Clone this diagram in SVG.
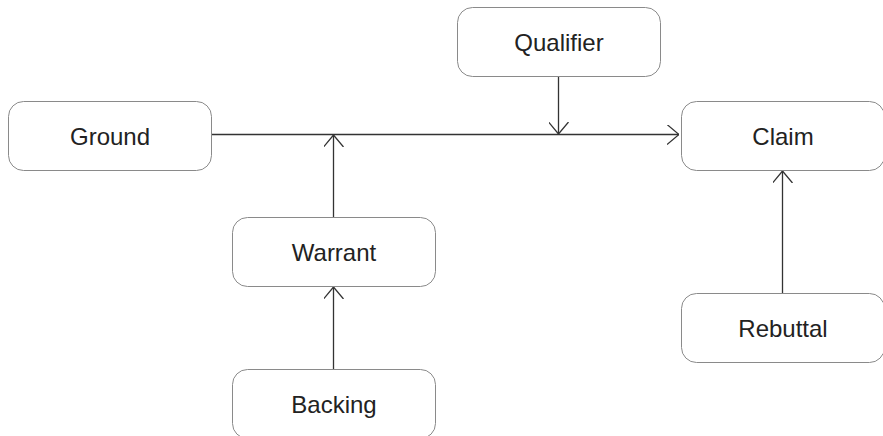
<svg xmlns="http://www.w3.org/2000/svg" width="883" height="436" viewBox="0 0 883 436">
<style>
.box{fill:#fff;stroke:#8a8a8a;stroke-width:1}
.lbl{font-family:"Liberation Sans",Arial,sans-serif;font-size:24px;fill:#222;text-anchor:middle}
.edge{stroke:#333;stroke-width:1.3;fill:none}
</style>
<defs>
<marker id="arr" viewBox="0 0 12 20" refX="12" refY="10" markerWidth="12" markerHeight="20" markerUnits="userSpaceOnUse" orient="auto">
<path d="M0,0 L12,10 L0,20" fill="none" stroke="#333" stroke-width="1.3"/>
</marker>
</defs>
<rect width="883" height="436" fill="#fff"/>
<g id="connectors">
<path class="edge" d="M211,134.5 L679,134.5" marker-end="url(#arr)"/>
<path class="edge" d="M558.5,76 L558.5,134" marker-end="url(#arr)"/>
<path class="edge" d="M333.5,217 L333.5,135" marker-end="url(#arr)"/>
<path class="edge" d="M333.5,369 L333.5,287" marker-end="url(#arr)"/>
<path class="edge" d="M782.5,293 L782.5,171" marker-end="url(#arr)"/>
</g>
<g id="ground"><rect class="box" x="8.5" y="101.5" width="203" height="69" rx="15"/><text class="lbl" x="110" y="145">Ground</text></g>
<g id="qualifier"><rect class="box" x="457.5" y="7.5" width="203" height="69" rx="15"/><text class="lbl" x="559" y="51">Qualifier</text></g>
<g id="claim"><rect class="box" x="681.5" y="101.5" width="203" height="69" rx="15"/><text class="lbl" x="783" y="145">Claim</text></g>
<g id="warrant"><rect class="box" x="232.5" y="217.5" width="203" height="69" rx="15"/><text class="lbl" x="334" y="261">Warrant</text></g>
<g id="backing"><rect class="box" x="232.5" y="369.5" width="203" height="69" rx="15"/><text class="lbl" x="334" y="413">Backing</text></g>
<g id="rebuttal"><rect class="box" x="681.5" y="293.5" width="203" height="69" rx="15"/><text class="lbl" x="783" y="337">Rebuttal</text></g>
</svg>
